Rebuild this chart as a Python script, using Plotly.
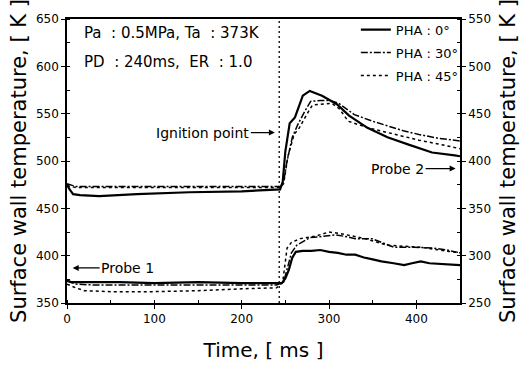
import plotly.graph_objects as go

# ---- Probe 1 (left axis) ----
t1_0 = [0, 5, 30, 60, 100, 150, 200, 240, 246, 250, 254, 258, 262, 270, 280, 290, 300, 310, 320, 330, 340, 350, 360, 374, 386, 395, 405, 415, 430, 450]
v1_0 = [374, 372, 372, 372, 371, 372, 371, 371, 371, 376, 385, 398, 404, 405, 405, 406, 404, 403, 401, 401, 398, 396, 394, 392, 390, 392, 394, 392, 391, 390]
t1_30 = [0, 10, 30, 60, 100, 150, 200, 240, 248, 252, 257, 263, 270, 278, 290, 308, 320, 330, 349, 360, 374, 397, 419, 435, 450]
v1_30 = [373, 370, 369, 369, 369, 369, 369, 369, 372, 385, 403, 411, 415, 419, 420, 422, 420, 418, 418, 414, 409, 409, 408, 406, 403]
t1_45 = [0, 10, 20, 50, 100, 150, 200, 240, 247, 252, 257, 267, 286, 300, 315, 341, 367, 404, 441, 450]
v1_45 = [370, 366, 363, 362, 362, 363, 365, 366, 372, 408, 414, 418, 421, 425, 423, 418, 411, 409, 404, 403]

# ---- Probe 2 (right axis) ----
t2_0 = [0, 3, 7, 15, 37, 80, 140, 200, 244, 247, 250, 255, 261, 270, 278, 292, 309, 323, 344, 367, 392, 418, 444, 450]
v2_0 = [375, 370, 365, 364, 363, 365, 367, 368, 370, 378, 410, 440, 446, 469, 474, 469, 460, 448, 435, 425, 417, 409, 406, 405]
t2_30 = [0, 10, 50, 100, 150, 200, 244, 248, 252, 258, 264, 272, 279, 290, 300, 311, 329, 350, 367, 385, 403, 425, 444, 450]
v2_30 = [376, 373, 373, 373, 373, 373, 373, 378, 400, 425, 438, 452, 463, 464, 464, 461, 449, 442, 437, 432, 428, 424, 422, 421]
t2_45 = [0, 10, 50, 100, 150, 200, 244, 248, 253, 260, 266, 275, 281, 290, 303, 312, 322, 345, 367, 385, 403, 425, 444, 450]
v2_45 = [374, 372, 372, 372, 372, 372, 372, 376, 405, 428, 435, 450, 459, 460, 461, 455, 442, 435, 430, 426, 422, 418, 414, 413]

ignition_t = 243
x_ticks = [0, 100, 200, 300, 400]
y1_ticks = [350, 400, 450, 500, 550, 600, 650]
y2_ticks = [250, 300, 350, 400, 450, 500, 550]
legend_names = ["PHA : 0°", "PHA : 30°", "PHA : 45°"]

FONT = "DejaVu Sans"
styles = [dict(color="black", width=2.2, dash="solid"),
          dict(color="black", width=1.5, dash="7px,2px,2px,2px"),
          dict(color="black", width=1.5, dash="3px,3px")]

fig = go.Figure()
for i, (t, v) in enumerate([(t1_0, v1_0), (t1_30, v1_30), (t1_45, v1_45)]):
    fig.add_trace(go.Scatter(x=t, y=v, mode="lines", line=styles[i], name=legend_names[i],
                             legendgroup=f"g{i}", showlegend=True, yaxis="y"))
for i, (t, v) in enumerate([(t2_0, v2_0), (t2_30, v2_30), (t2_45, v2_45)]):
    fig.add_trace(go.Scatter(x=t, y=v, mode="lines", line=styles[i], name=legend_names[i],
                             legendgroup=f"g{i}", showlegend=False, yaxis="y2"))

fig.add_trace(go.Scatter(x=[ignition_t, ignition_t], y=[350, 650], mode="lines",
                         line=dict(color="black", width=1.3, dash="2px,3px"),
                         showlegend=False, yaxis="y"))

axis_common = dict(showline=True, linecolor="black", linewidth=1.5, ticks="outside",
                   ticklen=4, tickwidth=1.3, tickcolor="black", showgrid=False, zeroline=False,
                   tickfont=dict(family=FONT, size=12, color="black"))

fig.update_layout(
    width=528, height=370,
    margin=dict(l=67, r=56, t=14, b=66),
    paper_bgcolor="white", plot_bgcolor="white",
    font=dict(family=FONT, color="black"),
    xaxis=dict(range=[0, 450], tickvals=x_ticks, mirror=True,
               minor=dict(dtick=50, ticks="inside", ticklen=3, tickcolor="black"),
               title=dict(text="Time, [ ms ]", font=dict(family=FONT, size=20), standoff=18),
               **axis_common),
    yaxis=dict(range=[350, 650], tickvals=y1_ticks,
               minor=dict(dtick=25, ticks="inside", ticklen=3, tickcolor="black"),
               title=dict(text="Surface wall temperature, [ K ]", font=dict(family=FONT, size=21), standoff=4),
               **axis_common),
    yaxis2=dict(range=[250, 550], tickvals=y2_ticks, overlaying="y", side="right",
                minor=dict(dtick=25, ticks="inside", ticklen=3, tickcolor="black"),
                title=dict(text="Surface wall temperature, [ K ]", font=dict(family=FONT, size=21), standoff=10),
                **axis_common),
    legend=dict(x=0.735, y=1.015, xanchor="left", yanchor="top", bgcolor="rgba(0,0,0,0)",
                font=dict(family=FONT, size=13), tracegroupgap=3),
    showlegend=True,
)

ann_font = dict(family=FONT, size=15, color="black")
fig.add_annotation(text="Pa\u00a0\u00a0: 0.5MPa, Ta\u00a0\u00a0: 373K", x=0.037, y=0.952, xref="paper", yref="paper",
                   xanchor="left", yanchor="middle", showarrow=False, font=ann_font)
fig.add_annotation(text="PD\u00a0\u00a0: 240ms,\u00a0\u00a0ER\u00a0\u00a0: 1.0", x=0.037, y=0.85, xref="paper", yref="paper",
                   xanchor="left", yanchor="middle", showarrow=False, font=ann_font)

lab_font = dict(family=FONT, size=14, color="black")
arrow = dict(showarrow=True, arrowhead=2, arrowsize=1, arrowwidth=1.2, arrowcolor="black")
fig.add_annotation(text="Ignition point", x=238, y=530, xref="x", yref="y", ax=-72, ay=0, font=lab_font, **arrow)
fig.add_annotation(text="Probe 2", x=445, y=492, xref="x", yref="y", ax=-58, ay=0, font=lab_font, **arrow)
fig.add_annotation(text="Probe 1", x=6.5, y=387, xref="x", yref="y", ax=55, ay=0, font=lab_font, **arrow)

fig.write_html("out.html")
